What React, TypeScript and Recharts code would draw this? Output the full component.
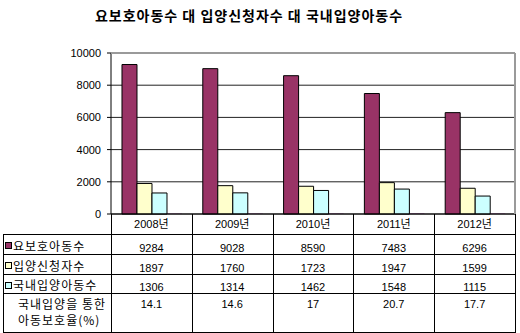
import { Bar, BarChart, CartesianGrid, ReferenceLine, XAxis, YAxis } from 'recharts';

const years = ['2008년', '2009년', '2010년', '2011년', '2012년'];
const protectedKids = [9284, 9028, 8590, 7483, 6296];
const applicants = [1897, 1760, 1723, 1947, 1599];
const domesticAdoptions = [1306, 1314, 1462, 1548, 1115];
const protectionRate = [14.1, 14.6, 17, 20.7, 17.7];
const yTicks = [0, 2000, 4000, 6000, 8000, 10000];

const SERIES = [
  { key: 'kids', label: '요보호아동수', color: '#993366', values: protectedKids },
  { key: 'apply', label: '입양신청자수', color: '#FFFFCC', values: applicants },
  { key: 'adopt', label: '국내입양아동수', color: '#CCFFFF', values: domesticAdoptions },
  { key: 'rate', label: '국내입양을 통한 아동보호율(%)', color: '#660066', values: protectionRate },
];

const W = 520;
const H = 333;
const PLOT_LEFT = 111;
const PLOT_RIGHT = 515;
const PLOT_TOP = 53;
const PLOT_BOTTOM = 214;
const AXIS_W = 60;
const XAXIS_H = 19;
const TABLE_LEFT = 3;
const ROW_LINES = [234, 254, 274, 293, 332];

const NUM_FONT = '"Liberation Sans", Arial, "Noto Sans CJK KR", sans-serif';
const KO_FONT = '"Noto Sans CJK KR", "Liberation Sans", sans-serif';

const rows = years.map((year, i) => {
  const row: Record<string, string | number> = { year };
  SERIES.forEach((s) => (row[s.key] = s.values[i]));
  return row;
});

function DataTable() {
  const colW = (PLOT_RIGHT - PLOT_LEFT) / years.length;
  const line = { stroke: '#000', strokeWidth: 1, shapeRendering: 'crispEdges' as const };
  return (
    <svg width={W} height={H} style={{ position: 'absolute', left: 0, top: 0, pointerEvents: 'none' }}>
      {/* plot frame (top and right) */}
      <line x1={PLOT_LEFT} x2={PLOT_RIGHT} y1={PLOT_TOP} y2={PLOT_TOP} stroke="#9a9a9a" strokeWidth={2} />
      <line x1={PLOT_RIGHT} x2={PLOT_RIGHT} y1={PLOT_TOP} y2={PLOT_BOTTOM} stroke="#9a9a9a" strokeWidth={2} />
      {/* verticals */}
      {years.map((_, i) => (
        <line key={i} x1={PLOT_LEFT + i * colW + 0.5} x2={PLOT_LEFT + i * colW + 0.5} y1={PLOT_BOTTOM} y2={ROW_LINES[4] + 0.5} {...line} />
      ))}
      <line x1={PLOT_RIGHT + 0.5} x2={PLOT_RIGHT + 0.5} y1={PLOT_BOTTOM} y2={ROW_LINES[4] + 0.5} {...line} />
      <line x1={TABLE_LEFT + 0.5} x2={TABLE_LEFT + 0.5} y1={ROW_LINES[0]} y2={ROW_LINES[4] + 0.5} {...line} />
      {ROW_LINES.map((y) => (
        <line key={y} x1={TABLE_LEFT} x2={PLOT_RIGHT + 1} y1={y + 0.5} y2={y + 0.5} {...line} />
      ))}
      {/* series rows */}
      {SERIES.slice(0, 3).map((s, r) => (
        <g key={s.key}>
          <rect x={5.5} y={ROW_LINES[r] + 8.5} width={6} height={6} fill={s.color} stroke="#000" strokeWidth={1} />
          <text x={13} y={ROW_LINES[r + 1] - 3} fontSize={12} letterSpacing={1} fontFamily={KO_FONT} fill="#000">
            {s.label}
          </text>
          {s.values.map((v, i) => (
            <text key={i} x={PLOT_LEFT + (i + 0.5) * colW} y={ROW_LINES[r + 1] - 2} textAnchor="middle" fontSize={11} fontFamily={NUM_FONT} fill="#000">
              {v}
            </text>
          ))}
        </g>
      ))}
      <text x={18} y={309} fontSize={12} letterSpacing={1} fontFamily={KO_FONT} fill="#000">국내입양을 통한</text>
      <text x={18} y={325} fontSize={12} letterSpacing={1} fontFamily={KO_FONT} fill="#000">아동보호율(%)</text>
      {protectionRate.map((v, i) => (
        <text key={i} x={PLOT_LEFT + (i + 0.5) * colW} y={308} textAnchor="middle" fontSize={11} fontFamily={NUM_FONT} fill="#000">
          {v}
        </text>
      ))}
    </svg>
  );
}

export default function App() {
  return (
    <div style={{ position: 'relative', width: W, height: H, background: '#fff' }}>
      <style>{'body{margin:0}'}</style>
      <div
        style={{
          position: 'absolute',
          top: 6,
          left: 0,
          width: 498,
          textAlign: 'center',
          fontFamily: KO_FONT,
          fontSize: 14,
          fontWeight: 700,
          letterSpacing: 1,
          color: '#000',
          lineHeight: '18px',
        }}
      >
        요보호아동수 대 입양신청자수 대 국내입양아동수
      </div>
      <BarChart
        width={W}
        height={H}
        data={rows}
        margin={{ top: PLOT_TOP, right: W - PLOT_RIGHT, left: PLOT_LEFT - AXIS_W, bottom: H - PLOT_BOTTOM - XAXIS_H }}
        barCategoryGap="13.6%"
        barGap={0}
      >
        <CartesianGrid vertical={false} stroke="#222" strokeDasharray="" />
        <XAxis
          dataKey="year"
          height={XAXIS_H}
          axisLine={{ stroke: '#000' }}
          tickLine={false}
          tickSize={0}
          tickMargin={6}
          tick={{ fontSize: 11, fill: '#000', fontFamily: NUM_FONT }}
        />
        <YAxis
          width={AXIS_W}
          domain={[0, 10000]}
          ticks={yTicks}
          interval={0}
          axisLine={{ stroke: '#000' }}
          tickLine={{ stroke: '#000' }}
          tickSize={4}
          tickMargin={6}
          tick={{ fontSize: 11, fill: '#000', fontFamily: NUM_FONT }}
        />
        <ReferenceLine y={10000} stroke="#9a9a9a" strokeWidth={2} />
        {SERIES.map((s) => (
          <Bar
            key={s.key}
            dataKey={s.key}
            name={s.label}
            fill={s.color}
            stroke={s.key === 'rate' ? 'none' : '#000'}
            strokeWidth={1}
            isAnimationActive={false}
          />
        ))}
      </BarChart>
      <DataTable />
    </div>
  );
}
